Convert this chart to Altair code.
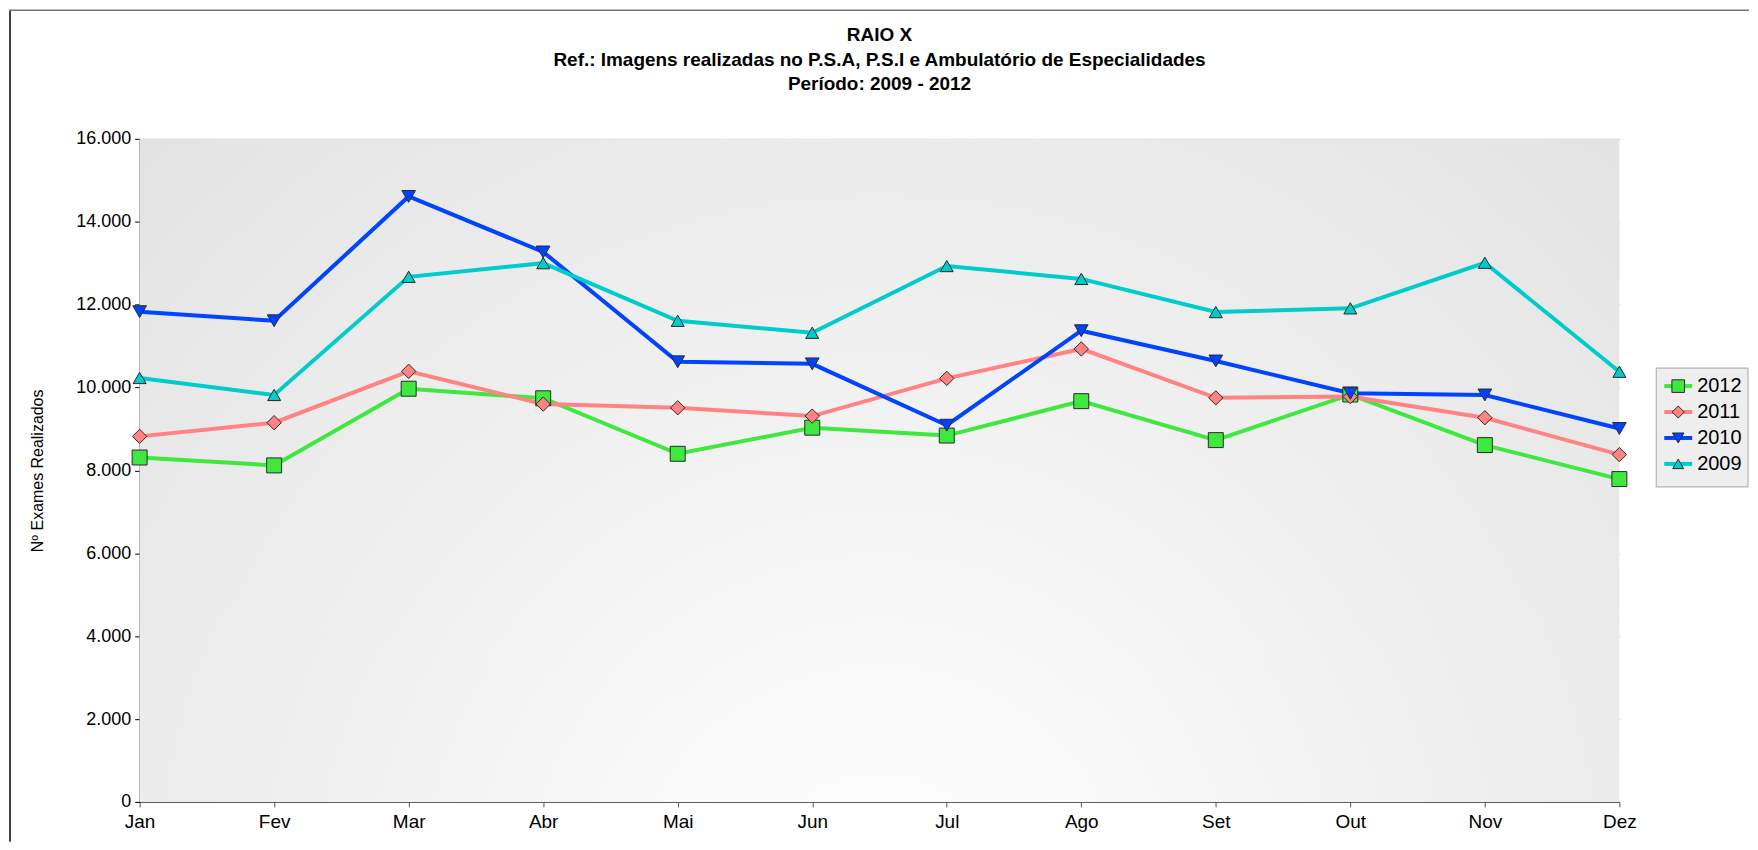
import altair as alt
import pandas as pd

months = ["Jan", "Fev", "Mar", "Abr", "Mai", "Jun", "Jul", "Ago", "Set", "Out", "Nov", "Dez"]
years = ["2012", "2011", "2010", "2009"]
v2012 = [8310, 8120, 9970, 9740, 8400, 9030, 8840, 9670, 8730, 9830, 8610, 7790]
v2011 = [8820, 9150, 10390, 9600, 9510, 9310, 10220, 10930, 9750, 9780, 9270, 8380]
v2010 = [11830, 11610, 14610, 13270, 10620, 10570, 9090, 11370, 10640, 9860, 9820, 9010]
v2009 = [10230, 9820, 12670, 13000, 11610, 11320, 12930, 12620, 11820, 11910, 13010, 10380]
y_ticks = [0, 2000, 4000, 6000, 8000, 10000, 12000, 14000, 16000]

line_colors = ["#3fe83f", "#ff8383", "#0044ff", "#00cccc"]
shapes = ["square", "diamond", "triangle-down", "triangle-up"]
sizes = [225, 170, 260, 260]
legend_sizes = [160, 120, 180, 180]

series = {"2012": v2012, "2011": v2011, "2010": v2010, "2009": v2009}
rows = []
for y in years:
    for m, v in zip(months, series[y]):
        rows.append({"Mes": m, "Ano": y, "Valor": v})
df = pd.DataFrame(rows)
leg_df = pd.DataFrame({"Ano": years})
bg_df = pd.DataFrame({"f": [0]})

W, H = 1484, 665
FONT = "Liberation Sans"

x_enc = alt.X("Mes:O", sort=months, title=None,
              scale=alt.Scale(padding=0),
              axis=alt.Axis(labelAngle=0, grid=False, domainColor="#555555",
                            tickColor="#555555", tickSize=5, labelFontSize=19,
                            labelFont=FONT, labelColor="#000000", labelPadding=6))
y_scale = alt.Scale(domain=[0, 16000], nice=False)
y_axis_enc = alt.Y("Valor:Q", scale=y_scale, title="Nº Exames Realizados",
                   axis=alt.Axis(values=y_ticks,
                                 labelExpr="replace(format(datum.value, ','), ',', '.')",
                                 gridColor="#c0c0c0", gridWidth=1.3,
                                 domainColor="#000000", tickColor="#000000", tickSize=5,
                                 labelFontSize=18, labelFont=FONT, labelColor="#000000",
                                 labelPadding=4, titleFontSize=16, titleFont=FONT,
                                 titleFontWeight="normal", titleColor="#000000",
                                 titlePadding=30))
y_plain_enc = alt.Y("Valor:Q", scale=y_scale, axis=None)

stroke_enc = alt.Stroke("Ano:N", scale=alt.Scale(domain=years, range=line_colors), legend=None)
color_enc = alt.Color("Ano:N", scale=alt.Scale(domain=years, range=line_colors), legend=None)
shape_enc = alt.Shape("Ano:N", scale=alt.Scale(domain=years, range=shapes), legend=None)
size_enc = alt.Size("Ano:N", scale=alt.Scale(domain=years, range=sizes), legend=None)

background = alt.Chart(bg_df).mark_rect(
    fill=alt.Gradient(gradient="radial", x1=0.5, y1=0.8, x2=0.5, y2=0.8, r1=0, r2=0.8,
                      stops=[alt.GradientStop(offset=0, color="#ffffff"),
                             alt.GradientStop(offset=1, color="#e0e0e0")])
).encode(x=alt.value(0), x2=alt.value(W), y=alt.value(0), y2=alt.value(H))

lines = alt.Chart(df).mark_line(strokeWidth=4).encode(
    x=x_enc, y=y_axis_enc, stroke=stroke_enc, detail="Ano:N",
)

points = alt.Chart(df).mark_point(filled=True, stroke="#2a2a2a", strokeWidth=1,
                                  opacity=1).encode(
    x=x_enc, y=y_plain_enc, color=color_enc, shape=shape_enc, size=size_enc,
)

# legend, drawn from the years list through the same colour/shape scales
leg_y = alt.Y("Ano:N", sort=years,
              scale=alt.Scale(type="point", domain=years, range=[248, 326], padding=0),
              axis=None)
leg_box = alt.Chart(bg_df).mark_rect(fill="#eeeeee", stroke="#b4b4b4", strokeWidth=1.2).encode(
    x=alt.value(1521), x2=alt.value(1613), y=alt.value(230), y2=alt.value(349))
leg_lines = alt.Chart(leg_df).mark_rule(strokeWidth=4).encode(
    x=alt.value(1529), x2=alt.value(1557), y=leg_y, stroke=stroke_enc)
leg_pts = alt.Chart(leg_df).mark_point(filled=True, stroke="#2a2a2a", strokeWidth=1,
                                       opacity=1).encode(
    x=alt.value(1543), y=leg_y, color=color_enc, shape=shape_enc,
    size=alt.Size("Ano:N", scale=alt.Scale(domain=years, range=legend_sizes), legend=None))
leg_text = alt.Chart(leg_df).mark_text(align="left", baseline="middle", fontSize=20,
                                       font=FONT, color="#000000").encode(
    x=alt.value(1562), y=leg_y, text="Ano:N")

frame_left = alt.Chart(bg_df).mark_rule(color="#000000", strokeWidth=1.5).encode(
    x=alt.value(-130), y=alt.value(-129), y2=alt.value(H + 40))
frame_top = alt.Chart(bg_df).mark_rule(color="#777777", strokeWidth=1.5).encode(
    x=alt.value(-131), x2=alt.value(W + 130), y=alt.value(-129))

chart = alt.layer(background, frame_left, frame_top, lines, points,
                  leg_box, leg_lines, leg_pts, leg_text).resolve_scale(
    y="independent", size="independent"
).properties(
    width=W, height=H,
    padding=0,
    title=alt.TitleParams(
        text=["RAIO X",
              "Ref.: Imagens realizadas no P.S.A, P.S.I e Ambulatório de Especialidades",
              "Período: 2009 - 2012"],
        fontSize=19, fontWeight="bold", font=FONT, color="#000000",
        lineHeight=24.5, anchor="middle", offset=-85),
).configure_view(stroke=None)

chart.save("out.html", embed_options={"renderer": "svg", "actions": False})
